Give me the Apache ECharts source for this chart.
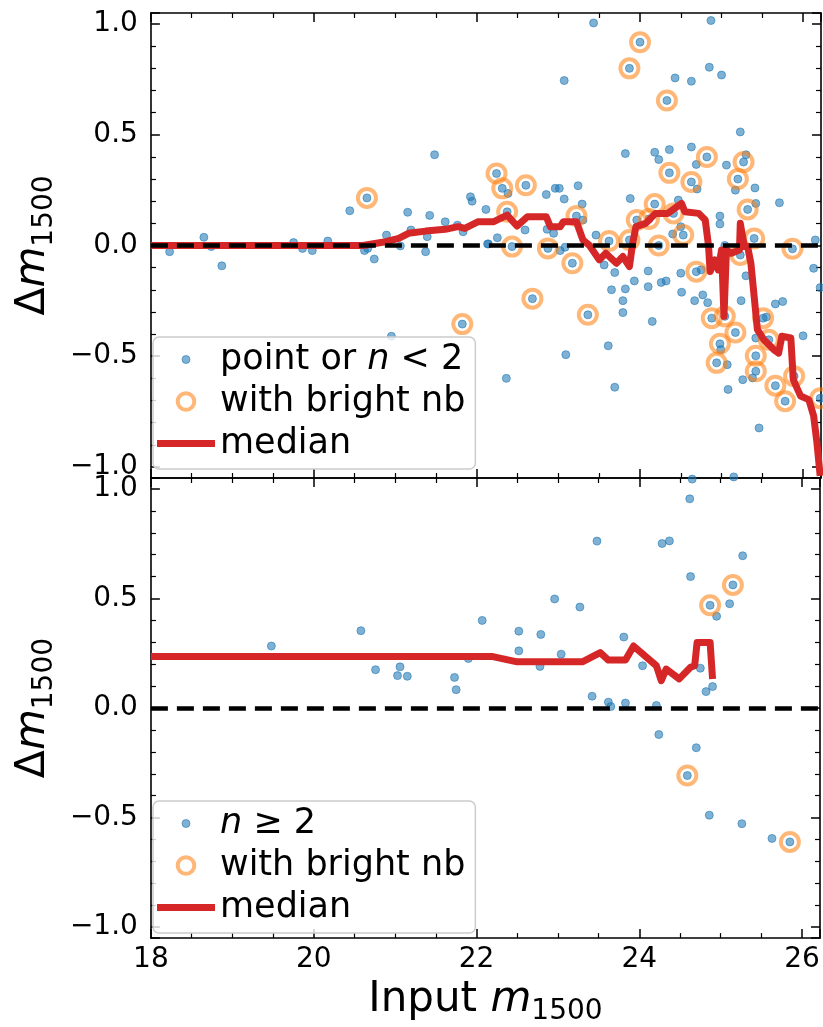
<!DOCTYPE html>
<html><head><meta charset="utf-8">
<script src="https://cdn.jsdelivr.net/npm/echarts@6/dist/echarts.min.js"></script>
<style>html,body{margin:0;padding:0;background:#fff}#c{width:823px;height:1027px}</style>
</head><body><div id="c"></div>
<script>
// ---------------- data ----------------
const topPoints = [
[18.23,-0.028],[18.65,0.037],[18.74,-0.005],[18.87,-0.092],[19.75,0.013],[19.86,-0.013],[19.98,-0.023],[20.17,0.02],
[20.44,0.157],[20.62,-0.023],[20.65,0.215],[20.66,-0.013],[20.74,-0.061],[20.89,0.047],[20.95,-0.41],[21.06,-0.002],
[21.15,0.15],[21.19,0.07],[21.37,-0.028],[21.39,0.04],[21.42,0.136],[21.48,0.41],[21.61,0.107],[21.76,0.092],
[21.82,-0.355],[21.83,0.062],[21.92,0.22],[21.94,0.20],[22.11,0.163],[22.13,0.007],
[22.14,0.007],[22.24,0.325],[22.25,0.035],[22.31,0.258],[22.36,-0.6],[22.37,0.152],[22.38,0.235],[22.43,-0.005],
[22.59,0.07],[22.6,0.272],[22.68,-0.24],[22.85,0.23],[22.86,0.073],[22.87,-0.013],[22.94,0.055],[22.96,0.258],
[23.01,0.258],[23.02,-0.023],[23.07,0.745],[23.07,0.21],[23.08,-0.008],[23.09,-0.493],[23.17,-0.08],[23.22,0.133],
[23.24,0.27],[23.29,0.187],[23.3,0.115],[23.36,-0.313],[23.43,1.005],[23.46,0.047],[23.56,-0.088],[23.61,-0.453],
[23.62,0.02],[23.65,-0.2],[23.69,-0.122],[23.69,-0.64],[23.79,-0.249],[23.79,-0.303],[23.82,0.415],[23.82,-0.196],
[23.87,0.80],[23.87,0.025],[23.88,0.212],[23.93,-0.16],[23.96,0.115],[24.0,0.918],[24.1,-0.115],[24.1,-0.186],
[24.11,0.12],[24.15,-0.343],[24.18,0.421],[24.18,0.187],[24.23,0.388],[24.23,0.0],[24.26,-0.167],[24.32,-0.16],
[24.33,0.655],[24.36,0.433],[24.36,0.328],[24.4,0.052],[24.41,0.145],[24.43,0.757],[24.47,0.205],[24.5,0.085],
[24.5,-0.125],[24.51,-0.211],[24.53,0.047],[24.63,0.742],[24.63,0.445],[24.63,0.287],[24.67,-0.249],[24.69,0.366],
[24.69,-0.118],[24.70,0.255],[24.75,-0.11],[24.77,-0.223],[24.82,0.40],[24.83,-0.258],[24.85,0.805],[24.87,1.016],
[24.88,-0.328],[24.94,-0.53],[24.98,0.133],[24.98,0.097],[24.98,-0.444],[24.99,-0.47],[25.0,0.77],[25.04,0.0],
[25.04,-0.32],[25.06,0.363],[25.07,-0.538],[25.08,-0.65],[25.15,-1.045],[25.17,0.25],[25.17,-0.393],[25.2,0.30],
[25.23,0.513],[25.23,-0.043],[25.24,-0.249],[25.26,-0.606],[25.27,0.377],[25.3,0.41],[25.3,-0.137],[25.32,0.163],
[25.38,-0.598],[25.4,0.032],[25.41,0.26],[25.42,0.19],[25.42,-0.418],[25.42,-0.498],[25.42,-0.568],[25.46,-0.824],
[25.51,-0.328],[25.55,-0.323],[25.58,-0.426],[25.66,-0.264],[25.66,-0.633],[25.71,0.193],[25.75,-0.253],[25.78,-0.703],
[25.87,-0.015],[25.89,-0.59],[26.0,-0.408],[26.13,-0.103],[26.15,0.025],[26.21,-0.19],[26.21,-0.69]
];
const topBright = [
[20.65,0.215],[21.82,-0.355],[22.24,0.325],[22.31,0.258],[22.37,0.152],[22.43,-0.005],[22.6,0.272],[22.68,-0.24],
[22.87,-0.013],[23.17,-0.08],[23.22,0.133],[23.36,-0.313],[23.62,0.02],[23.87,0.80],[23.87,0.025],[23.96,0.115],
[24.0,0.918],[24.11,0.12],[24.18,0.187],[24.23,0.0],[24.33,0.655],[24.36,0.328],[24.41,0.145],[24.53,0.047],
[24.63,0.287],[24.69,-0.118],[24.82,0.40],[24.88,-0.328],[24.94,-0.53],[24.98,-0.444],[25.04,-0.32],[25.17,-0.393],
[25.2,0.30],[25.23,-0.043],[25.27,0.377],[25.32,0.163],[25.4,0.032],[25.42,-0.498],[25.42,-0.568],[25.51,-0.328],
[25.58,-0.426],[25.66,-0.633],[25.78,-0.703],[25.87,-0.015],[25.89,-0.59],[26.21,-0.69]
];
const topMedian = [
[18,0],[20.6,0],[20.88,0.017],[21.04,0.032],[21.16,0.055],[21.37,0.065],[21.61,0.073],[21.77,0.085],[21.85,0.077],
[22.01,0.107],[22.2,0.107],[22.37,0.137],[22.49,0.088],[22.62,0.13],[22.85,0.13],[22.9,0.085],[23.02,0.085],
[23.06,0.107],[23.22,0.107],[23.3,0.025],[23.38,0.0],[23.5,-0.065],[23.58,-0.035],[23.71,-0.08],[23.79,-0.05],
[23.87,-0.095],[23.91,0.01],[23.95,0.085],[24.07,0.1],[24.19,0.145],[24.34,0.145],[24.51,0.19],[24.55,0.152],
[24.72,0.145],[24.8,0.115],[24.84,0.0],[24.86,-0.118],[24.92,-0.065],[24.96,-0.11],[25.0,-0.02],[25.03,-0.32],
[25.06,-0.02],[25.12,-0.035],[25.22,-0.02],[25.23,0.1],[25.28,-0.005],[25.32,-0.005],[25.36,-0.08],[25.4,-0.23],
[25.44,-0.38],[25.52,-0.426],[25.64,-0.47],[25.70,-0.486],[25.74,-0.41],[25.85,-0.418],[25.88,-0.606],[25.97,-0.68],
[26.07,-0.696],[26.13,-0.77],[26.17,-0.89],[26.21,-1.04]
];
const botPoints = [
[19.48,0.283],[20.58,0.353],[20.76,0.175],[21.03,0.148],[21.06,0.188],[21.15,0.145],[21.73,0.14],[21.75,0.084],
[21.9,0.226],[22.07,0.40],[22.52,0.351],[22.52,0.261],[22.78,0.19],[22.79,0.336],[22.96,0.498],[23.04,0.246],
[23.27,0.461],[23.42,0.054],[23.48,0.762],[23.62,0.027],[23.65,0.007],[23.81,0.324],[23.83,0.023],[24.04,0.193],
[24.21,0.012],[24.24,-0.121],[24.28,0.751],[24.37,0.763],[24.59,-0.308],[24.62,0.955],[24.63,0.60],[24.65,1.045],
[24.7,-0.181],[24.75,0.182],[24.82,0.075],[24.86,-0.489],[24.87,0.469],[24.9,0.098],[24.95,0.419],[25.11,0.476],
[25.15,0.562],[25.26,-0.528],[25.27,0.695],[25.63,-0.595],[25.85,-0.611]
];
const botBright = [[24.59,-0.308],[24.87,0.469],[25.15,0.562],[25.85,-0.611]];
const botMedian = [
[18,0.235],[22.2,0.235],[22.5,0.211],[23.3,0.211],[23.52,0.253],[23.62,0.219],[23.83,0.219],[23.93,0.283],
[24.21,0.193],[24.27,0.125],[24.33,0.178],[24.49,0.133],[24.63,0.186],[24.68,0.193],[24.71,0.299],[24.87,0.299],[24.9,0.133]
];
const xTickValues = [18, 20, 22, 24, 26];
const xTickLabels = ['18', '20', '22', '24', '26'];
const yTickValues = [-1, -0.5, 0, 0.5, 1];
const yTickLabels = ['\u22121.0', '\u22120.5', '0.0', '0.5', '1.0'];
const topLegendNames = ['point or n < 2', 'with bright nb', 'median'];
const botLegendNames = ['n \u2265 2', 'with bright nb', 'median'];

// ---------------- styles ----------------
const F = 'DejaVu Sans';
const BLUE = 'rgba(31,119,180,0.72)';
const ORANGE = 'rgba(255,127,14,0.7)';
const RED = '#d62728';
const XMIN = 18, XMAX = 26.22, YMIN = -1.05, YMAX = 1.05;

function findLabel(vals, labels, v) {
  for (let i = 0; i < vals.length; i++) if (Math.abs(vals[i] - v) < 1e-6) return labels[i];
  return '';
}
const axisLine = {show: true, onZero: false, lineStyle: {color: '#000', width: 1.6}};
const axisTick = {show: true, inside: true, length: 9, lineStyle: {color: '#000', width: 1.5}};
function minorTick(n) { return {show: true, splitNumber: n, length: 5, lineStyle: {color: '#000', width: 1.2}}; }
const nameRich = {
  n: {fontFamily: F, fontSize: 42, lineHeight: 50, color: '#000'},
  d: {fontFamily: F, fontSize: 41, lineHeight: 50, color: '#000'},
  m: {fontFamily: F, fontSize: 42, lineHeight: 50, fontStyle: 'italic', color: '#000'},
  s: {fontFamily: F, fontSize: 28, lineHeight: 28, padding: [23, 0, 0, 0], color: '#000'}
};

function xAxis(grid, pos, labels) {
  const a = {
    type: 'value', gridIndex: grid, position: pos, min: XMIN, max: XMAX, interval: 2,
    axisLine, axisTick, minorTick: minorTick(4), splitLine: {show: false}, minorSplitLine: {show: false},
    axisLabel: {show: labels, fontFamily: F, fontSize: 28, color: '#000', margin: 8,
      formatter: v => findLabel(xTickValues, xTickLabels, v)}
  };
  if (labels) {
    a.name = '{n|Input }{m|m}{s|1500}';
    a.nameLocation = 'middle';
    a.nameGap = 34;
    a.nameTextStyle = {rich: nameRich};
  }
  return a;
}
function yAxis(grid, pos, labels) {
  const a = {
    type: 'value', gridIndex: grid, position: pos, min: YMIN, max: YMAX,
    axisLine, axisTick, minorTick: minorTick(5), splitLine: {show: false}, minorSplitLine: {show: false},
    axisLabel: {show: labels, fontFamily: F, fontSize: 28, color: '#000', margin: 13,
      formatter: v => findLabel(yTickValues, yTickLabels, Math.round(v * 1000) / 1000)}
  };
  if (labels) {
    a.name = '{d|\u0394}{m|m}{s|1500}';
    a.nameLocation = 'middle';
    a.nameRotate = 90;
    a.nameGap = 90;
    a.nameTextStyle = {rich: nameRich};
  }
  return a;
}

function circlePath(r) {
  return 'path://M0 0M20 20M' + (10 + r) + ' 10A' + r + ' ' + r + ' 0 1 1 ' + (10 - r) + ' 10A' + r + ' ' + r + ' 0 1 1 ' + (10 + r) + ' 10Z';
}
const linePath = 'path://M0 0M58 20M0 6.5L58 6.5L58 13.5L0 13.5Z';

function legend(names, left, top) {
  return {
    z: 10, left, top, orient: 'vertical', selectedMode: false,
    itemWidth: 58, itemHeight: 20, itemGap: 1, padding: [2, 10, 5, 4],
    backgroundColor: 'rgba(255,255,255,0.8)', borderColor: '#cccccc', borderWidth: 1.5, borderRadius: 6,
    textStyle: {fontFamily: F, fontSize: 35, lineHeight: 41, color: '#000',
      rich: {i: {fontFamily: F, fontSize: 35, lineHeight: 41, fontStyle: 'italic', color: '#000'},
             t: {fontFamily: F, fontSize: 35, lineHeight: 41, color: '#000'}}},
    formatter: name => {
      if (name.indexOf('n ') === 0) return '{i|n}{t|' + name.slice(1) + '}';
      const k = name.indexOf(' n ');
      if (k >= 0) return '{t|' + name.slice(0, k + 1) + '}{i|n}{t|' + name.slice(k + 2) + '}';
      return name;
    },
    data: [
      {name: names[0], icon: circlePath(4), itemStyle: {color: BLUE, borderColor: BLUE, borderWidth: 1}},
      {name: names[1], icon: circlePath(8.3), itemStyle: {color: 'rgba(0,0,0,0)', borderColor: ORANGE, borderWidth: 4}},
      {name: names[2], icon: linePath, itemStyle: {color: RED, borderWidth: 0}}
    ]
  };
}

function panelSeries(grid, pts, bright, median, ptName) {
  const xi = grid * 2, yi = grid * 2;
  return [
    {type: 'scatter', name: ptName, xAxisIndex: xi, yAxisIndex: yi, data: pts, symbolSize: 8, z: 2,
     itemStyle: {color: BLUE, borderColor: BLUE, borderWidth: 1}},
    {type: 'scatter', name: 'with bright nb', xAxisIndex: xi, yAxisIndex: yi, data: bright, symbolSize: 18, z: 3,
     itemStyle: {color: 'rgba(0,0,0,0)', borderColor: ORANGE, borderWidth: 4}},
    {type: 'line', name: 'median', xAxisIndex: xi, yAxisIndex: yi, data: median, symbol: 'none', showSymbol: false, z: 4,
     itemStyle: {color: RED}, lineStyle: {color: RED, width: 7, join: 'round', cap: 'butt'}},
    {type: 'line', xAxisIndex: xi, yAxisIndex: yi, data: [], z: 5,
     markLine: {silent: true, symbol: 'none', label: {show: false}, animation: false,
       lineStyle: {color: '#000', width: 4.5, type: [17, 9]}, data: [{yAxis: 0}]}}
  ];
}

const chart = echarts.init(document.getElementById('c'), null, {renderer: 'canvas'});
chart.setOption({
  animation: false,
  backgroundColor: '#fff',
  grid: [
    {left: 142, top: 13, width: 679, height: 465},
    {left: 142, top: 478, width: 679, height: 463}
  ],
  xAxis: [xAxis(0, 'bottom', false), xAxis(0, 'top', false), xAxis(1, 'bottom', true), xAxis(1, 'top', false)],
  yAxis: [yAxis(0, 'left', true), yAxis(0, 'right', false), yAxis(1, 'left', true), yAxis(1, 'right', false)],
  legend: [legend(topLegendNames, 153, 337), legend(botLegendNames, 153, 801)],
  series: [].concat(
    panelSeries(0, topPoints, topBright, topMedian, topLegendNames[0]),
    panelSeries(1, botPoints, botBright, botMedian, botLegendNames[0])
  )
});
</script></body></html>
